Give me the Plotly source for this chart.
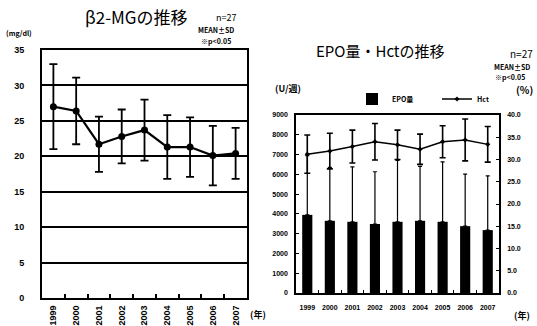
import plotly.graph_objects as go

years = ["1999", "2000", "2001", "2002", "2003", "2004", "2005", "2006", "2007"]

# beta2-MG (mg/dl)
b2mg_mean = [27.0, 26.4, 21.7, 22.8, 23.7, 21.3, 21.3, 20.1, 20.4]
b2mg_sd = [6.0, 4.7, 3.9, 3.8, 4.3, 4.5, 4.2, 4.2, 3.6]

# EPO (U/week)
epo_mean = [3950, 3650, 3600, 3490, 3600, 3650, 3600, 3380, 3180]
epo_sd = [3000, 2700, 2780, 2640, 3100, 2750, 3030, 2630, 2740]

# Hct (%)
hct_mean = [31.2, 31.9, 32.9, 34.0, 33.3, 32.3, 34.0, 34.4, 33.4]
hct_sd = [4.3, 4.0, 3.7, 4.1, 3.3, 3.4, 3.6, 4.7, 4.0]

left_yticks = [0, 5, 10, 15, 20, 25, 30, 35]
epo_ticks = [0, 1000, 2000, 3000, 4000, 5000, 6000, 7000, 8000, 9000]
hct_ticks = [0, 5, 10, 15, 20, 25, 30, 35, 40]

W, H = 537, 326
def px_x(v):
    return v / W
def px_y(v):
    return 1 - v / H

TICKFONT = dict(family="Liberation Sans", size=9, color="black", weight="bold")
SMALLTICK = dict(family="Liberation Sans", size=7, color="black", weight="bold")
JP = "Noto Sans CJK JP"

fig = go.Figure()

# Left chart
fig.add_trace(go.Scatter(
    x=years, y=b2mg_mean, mode="lines+markers",
    line=dict(color="black", width=2.2),
    marker=dict(color="black", size=7, symbol="circle"),
    error_y=dict(type="data", array=b2mg_sd, visible=True, color="black", thickness=1.8, width=4),
    xaxis="x", yaxis="y", showlegend=False,
))

# Right chart: EPO bars
fig.add_trace(go.Bar(
    x=years, y=epo_mean, name="EPO量", width=0.45,
    marker=dict(color="black", line=dict(width=0)),
    error_y=dict(type="data", symmetric=False, array=epo_sd, arrayminus=[0]*len(epo_sd),
                 visible=True, color="black", thickness=1.2, width=2),
    xaxis="x2", yaxis="y2",
))

# Right chart: Hct line
fig.add_trace(go.Scatter(
    x=years, y=hct_mean, name="Hct", mode="lines+markers",
    line=dict(color="black", width=1.5),
    marker=dict(color="black", size=4, symbol="diamond"),
    error_y=dict(type="data", array=hct_sd, visible=True, color="black", thickness=1.6, width=3),
    xaxis="x2", yaxis="y3",
))

fig.update_layout(
    width=W, height=H, autosize=False,
    margin=dict(l=0, r=0, t=0, b=0, autoexpand=False),
    paper_bgcolor="white", plot_bgcolor="white",
    font=dict(family=JP, color="black"),
    xaxis=dict(
        domain=[px_x(42), px_x(247)], anchor="y", type="category",
        range=[-0.5, 8.5], tickson="boundaries", ticks="inside", ticklen=4,
        tickwidth=1.5, tickcolor="black", tickangle=-90,
        showline=True, linecolor="black", linewidth=2, mirror=True,
        showgrid=False, tickfont=TICKFONT, ticklabelstandoff=2,
    ),
    yaxis=dict(
        domain=[px_y(298), px_y(50)], anchor="x", range=[0, 35],
        tickvals=left_yticks, ticks="", showline=True, linecolor="black",
        linewidth=2, mirror=True, showgrid=True, gridcolor="black", gridwidth=1.5,
        zeroline=False, tickfont=TICKFONT, ticklabelstandoff=14,
    ),
    xaxis2=dict(
        domain=[px_x(296), px_x(499)], anchor="y2", type="category",
        range=[-0.5, 8.5], tickson="boundaries", ticks="inside", ticklen=3,
        tickwidth=1.2, tickcolor="black", tickangle=0,
        showline=True, linecolor="black", linewidth=1.5, mirror=True,
        showgrid=False, tickfont=SMALLTICK, ticklabelstandoff=7,
    ),
    yaxis2=dict(
        domain=[px_y(293), px_y(115)], anchor="x2", range=[0, 9000],
        tickvals=epo_ticks, ticks="inside", ticklen=3, tickcolor="black",
        showline=True, linecolor="black", linewidth=1.5,
        showgrid=False, zeroline=False, tickfont=SMALLTICK, ticklabelstandoff=5,
    ),
    yaxis3=dict(
        overlaying="y2", anchor="x2", side="right", range=[0, 40],
        tickvals=hct_ticks, tickformat=".1f", ticks="inside", ticklen=3, tickcolor="black",
        showline=True, linecolor="black", linewidth=1.5,
        showgrid=False, zeroline=False, tickfont=SMALLTICK, ticklabelstandoff=5,
    ),
    legend=dict(
        orientation="h", x=px_x(352), y=px_y(99), xanchor="left", yanchor="middle",
        font=dict(family=JP, size=7, color="black", weight="bold"),
        bgcolor="rgba(0,0,0,0)", entrywidth=40, itemwidth=30,
        tracegroupgap=0,
    ),
    bargap=0.55,
)

def ann(text, x, y, size, xanchor="center", weight="normal"):
    fig.add_annotation(
        text=text, x=px_x(x), y=px_y(y), xref="paper", yref="paper",
        showarrow=False, xanchor=xanchor, yanchor="middle",
        font=dict(family=JP, size=size, color="black", weight=weight),
    )

# Left chart texts
ann("β2-MGの推移", 136, 16, 17)
ann("n=27", 226, 17, 9)
ann("MEAN±SD", 216, 30, 7, weight="bold")
ann("※p<0.05", 216, 41, 7, weight="bold")
ann("(mg/dl)", 4, 33, 7, xanchor="left", weight="bold")
ann("(年)", 258, 314, 9, weight="bold")

# Right chart texts
ann("EPO量・Hctの推移", 380, 51, 15)
ann("n=27", 521, 54, 10)
ann("MEAN±SD", 512, 67, 7, weight="bold")
ann("※p<0.05", 510, 77, 7, weight="bold")
ann("(U/週)", 288, 88, 9, weight="bold")
ann("(%)", 524, 90, 10, weight="bold")
ann("(年)", 522, 315, 9, weight="bold")

fig.write_html("out.html", config={"displayModeBar": False},
               post_script="document.body.style.margin='0px';")
